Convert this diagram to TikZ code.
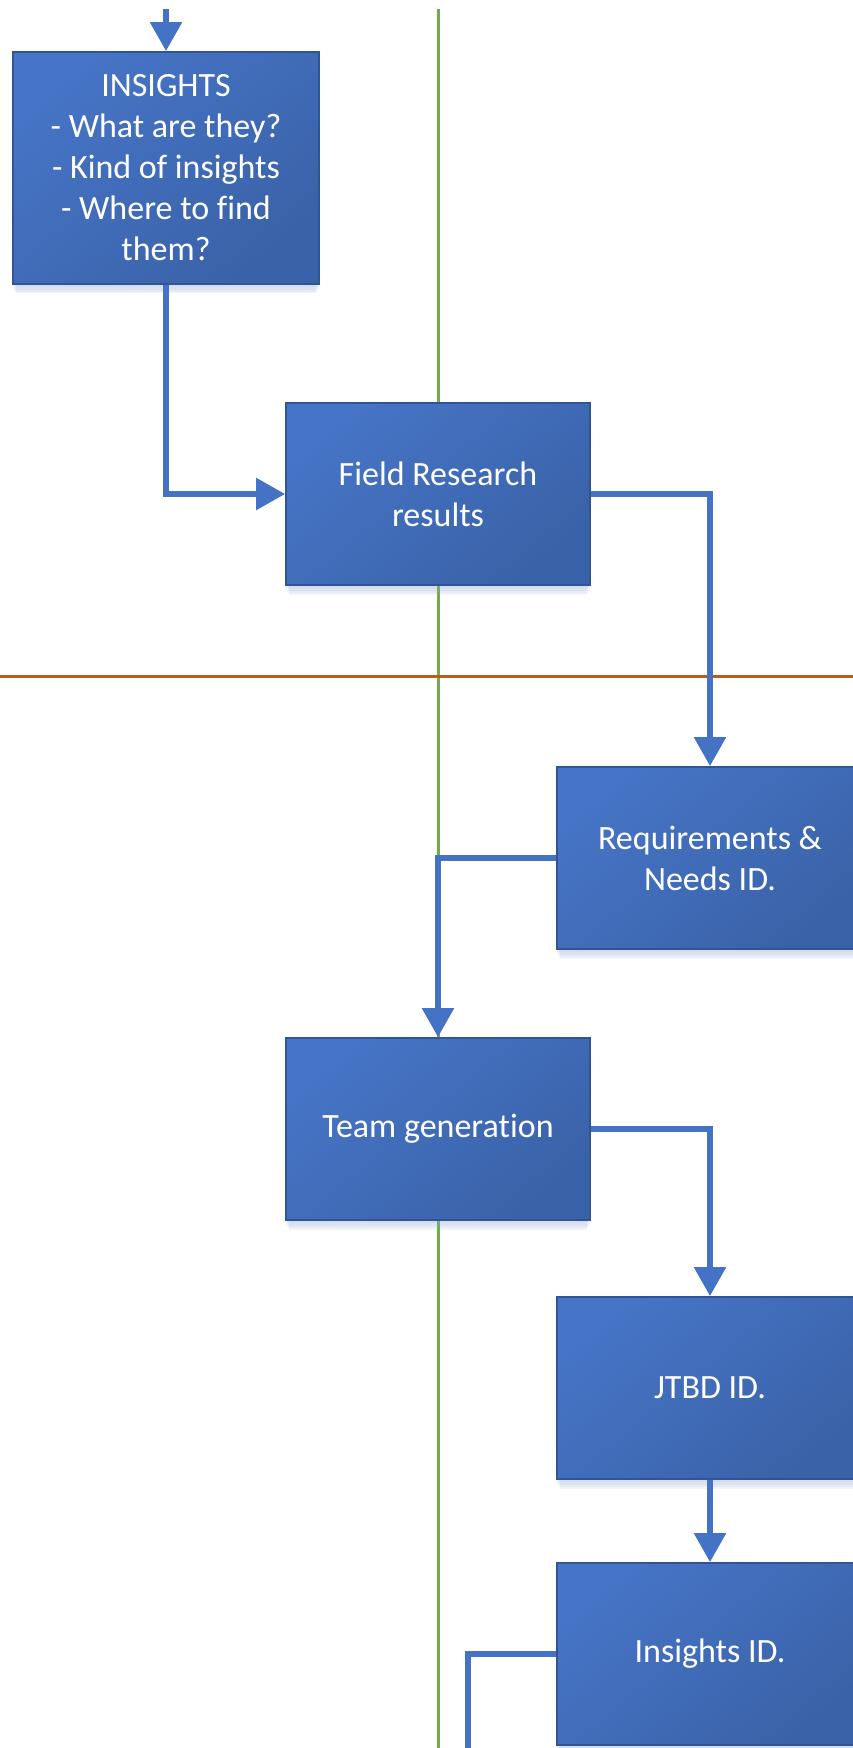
\documentclass[tikz,border=0pt]{standalone}
\usepackage{fontspec}
\setmainfont{Carlito}[Ligatures=NoCommon]
\usetikzlibrary{arrows.meta,shadows}

\definecolor{boxlight}{HTML}{4674C6}
\definecolor{boxdark}{HTML}{3A62A8}
\definecolor{boxedge}{HTML}{2F5597}
\definecolor{conn}{HTML}{4472C4}
\definecolor{shade}{HTML}{8FA8D6}
\definecolor{laneV}{HTML}{70AD47}
\definecolor{laneH}{HTML}{C05A1A}

\tikzset{
  softshadow/.style={
    general shadow={fill=shade, opacity=0.10, shadow yshift=-3pt},
    general shadow={fill=shade, opacity=0.10, shadow yshift=-6pt},
    general shadow={fill=shade, opacity=0.12, shadow yshift=-9pt, shadow scale=0.99},
    general shadow={fill=shade, opacity=0.12, shadow yshift=-12pt, shadow scale=0.98}},
  procbox/.style={rectangle, draw=boxedge, line width=1.8pt,
    top color=boxlight, bottom color=boxdark, shading angle=40,
    text=white, align=center, inner sep=0pt,
    minimum width=304pt, minimum height=182pt,
    font=\fontsize{34}{41}\selectfont, softshadow},
  flow/.style={draw=conn, line width=5.5pt,
    -{Triangle[length=29pt,width=31pt]}},
  flowplain/.style={draw=conn, line width=5.5pt},
  lane/.style={line width=3pt}
}

\begin{document}
\begin{tikzpicture}[x=1pt,y=-1pt]
  \useasboundingbox (0,0) rectangle (853,1748);
  \clip (0,0) rectangle (853,1748);
  \fill[white] (0,0) rectangle (853,1748);

  % swimlane separators
  \coordinate (vtop) at (438,9);
  \coordinate (vbot) at (438,1760);
  \coordinate (hl) at (0,676);
  \coordinate (hr) at (860,676);
  \draw[lane, draw=laneV] (vtop) -- (vbot);
  \draw[lane, draw=laneH] (hl) -- (hr);

  % process steps
  \node[procbox, minimum width=306pt, minimum height=232pt] (ins) at (166,168)
    {INSIGHTS\\- What are they?\\- Kind of insights\\- Where to find\\them?};
  \node[procbox] (fr) at (438,494) {Field Research\\results};
  \node[procbox, minimum width=306pt] (req) at (710,858) {Requirements \&\\Needs ID.};
  \node[procbox] (tg) at (438,1129) {Team generation};
  \node[procbox, minimum width=306pt] (jtbd) at (710,1388) {JTBD ID.};
  \node[procbox, minimum width=306pt] (insid) at (710,1654) {Insights ID.};

  % connectors
  \coordinate (start) at (166,9);
  \coordinate (cont) at (468,1760);
  \draw[flow] (start) -- (ins.north);
  \draw[flow] (ins.south) |- (fr.west);
  \draw[flow] (fr.east) -| (req.north);
  \draw[flow] (req.west) -| (tg.north);
  \draw[flow] (tg.east) -| (jtbd.north);
  \draw[flow] (jtbd.south) -- (insid.north);
  \draw[flowplain] (insid.west) -| (cont);
\end{tikzpicture}
\end{document}
